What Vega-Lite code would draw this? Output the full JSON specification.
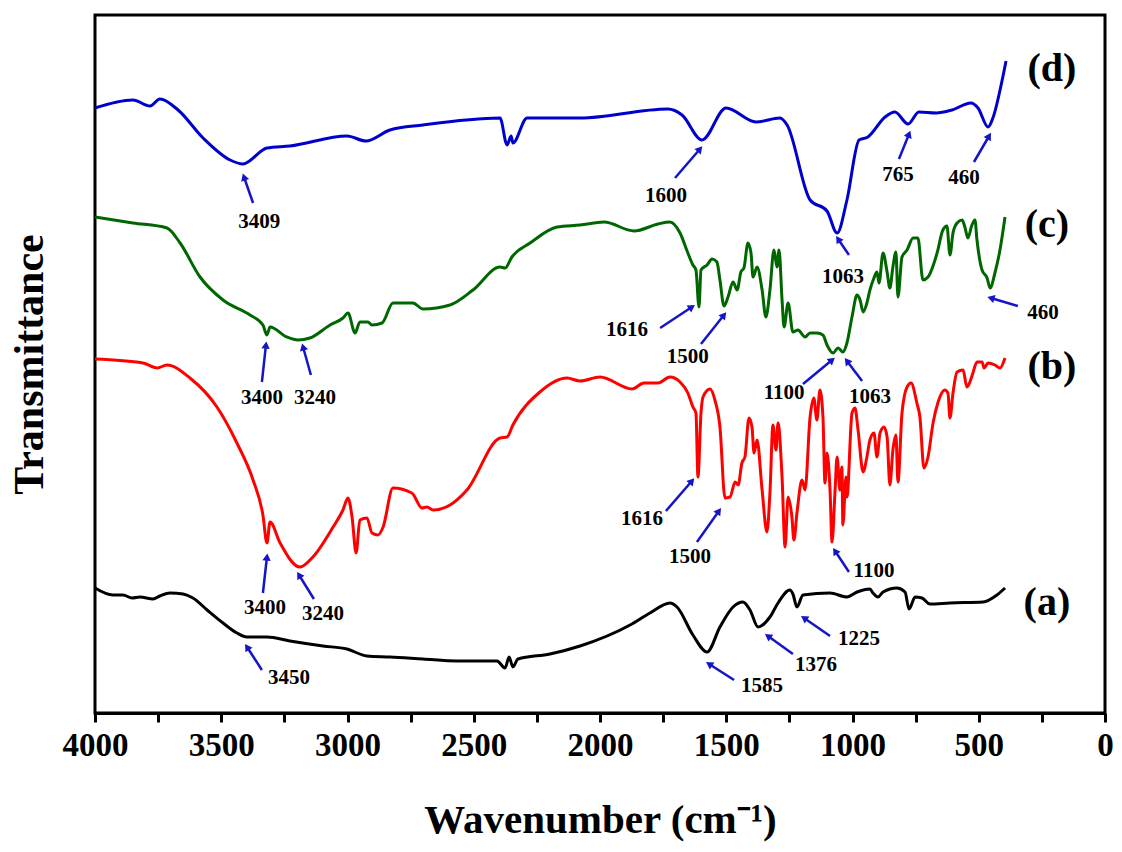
{
  "$schema": "https://vega.github.io/schema/vega-lite/v6.json",
  "width": 1010,
  "height": 698,
  "autosize": {"type": "none"},
  "padding": {"left": 95, "top": 15, "right": 17, "bottom": 139},
  "background": "white",
  "config": {"view": {"stroke": "black", "strokeWidth": 3}, "font": "Liberation Serif"},
  "datasets": {
    "spectra": [
      {"s":"d","w":4000,"t":605},{"s":"d","w":3850,"t":613},{"s":"d","w":3782,"t":607},{"s":"d","w":3743,"t":614},{"s":"d","w":3671,"t":603},{"s":"d","w":3572,"t":575},{"s":"d","w":3465,"t":553},{"s":"d","w":3414,"t":549},{"s":"d","w":3319,"t":565},{"s":"d","w":3228,"t":567},{"s":"d","w":3002,"t":577},{"s":"d","w":2927,"t":572},{"s":"d","w":2832,"t":583},{"s":"d","w":2701,"t":588},{"s":"d","w":2396,"t":595},{"s":"d","w":2368,"t":568},{"s":"d","w":2352,"t":577},{"s":"d","w":2345,"t":570},{"s":"d","w":2289,"t":595},{"s":"d","w":2079,"t":595},{"s":"d","w":1731,"t":604},{"s":"d","w":1675,"t":598},{"s":"d","w":1596,"t":573},{"s":"d","w":1501,"t":605},{"s":"d","w":1382,"t":591},{"s":"d","w":1287,"t":595},{"s":"d","w":1259,"t":588},{"s":"d","w":1168,"t":513},{"s":"d","w":1101,"t":502},{"s":"d","w":1061,"t":480},{"s":"d","w":1022,"t":513},{"s":"d","w":974,"t":573},{"s":"d","w":939,"t":576},{"s":"d","w":871,"t":596},{"s":"d","w":832,"t":601},{"s":"d","w":780,"t":589},{"s":"d","w":737,"t":601},{"s":"d","w":669,"t":600},{"s":"d","w":606,"t":603},{"s":"d","w":531,"t":610},{"s":"d","w":503,"t":605},{"s":"d","w":463,"t":586},{"s":"d","w":444,"t":595},{"s":"d","w":408,"t":632},{"s":"d","w":392,"t":652},
      {"s":"c","w":4000,"t":496},{"s":"c","w":3850,"t":490},{"s":"c","w":3715,"t":485},{"s":"c","w":3663,"t":470},{"s":"c","w":3584,"t":436},{"s":"c","w":3493,"t":413},{"s":"c","w":3386,"t":398},{"s":"c","w":3335,"t":388},{"s":"c","w":3319,"t":378},{"s":"c","w":3307,"t":386},{"s":"c","w":3240,"t":376},{"s":"c","w":3196,"t":373},{"s":"c","w":3149,"t":375},{"s":"c","w":3069,"t":388},{"s":"c","w":3018,"t":395},{"s":"c","w":2998,"t":400},{"s":"c","w":2970,"t":380},{"s":"c","w":2951,"t":391},{"s":"c","w":2919,"t":391},{"s":"c","w":2903,"t":388},{"s":"c","w":2863,"t":390},{"s":"c","w":2820,"t":410},{"s":"c","w":2741,"t":410},{"s":"c","w":2701,"t":404},{"s":"c","w":2594,"t":408},{"s":"c","w":2503,"t":423},{"s":"c","w":2396,"t":446},{"s":"c","w":2376,"t":445},{"s":"c","w":2349,"t":456},{"s":"c","w":2277,"t":470},{"s":"c","w":2170,"t":486},{"s":"c","w":2079,"t":488},{"s":"c","w":1984,"t":491},{"s":"c","w":1865,"t":482},{"s":"c","w":1770,"t":489},
      {"s":"c","w":1723,"t":491},{"s":"c","w":1683,"t":480},{"s":"c","w":1652,"t":460},{"s":"c","w":1632,"t":448},{"s":"c","w":1620,"t":443},{"s":"c","w":1608,"t":406},{"s":"c","w":1600,"t":443},{"s":"c","w":1576,"t":448},{"s":"c","w":1556,"t":454},{"s":"c","w":1537,"t":451},{"s":"c","w":1525,"t":433},{"s":"c","w":1509,"t":407},{"s":"c","w":1493,"t":416},{"s":"c","w":1473,"t":431},{"s":"c","w":1457,"t":423},{"s":"c","w":1442,"t":441},{"s":"c","w":1430,"t":445},{"s":"c","w":1414,"t":470},{"s":"c","w":1402,"t":460},{"s":"c","w":1394,"t":436},{"s":"c","w":1378,"t":446},{"s":"c","w":1358,"t":423},{"s":"c","w":1343,"t":396},{"s":"c","w":1327,"t":423},{"s":"c","w":1311,"t":463},{"s":"c","w":1299,"t":446},{"s":"c","w":1291,"t":463},{"s":"c","w":1279,"t":413},{"s":"c","w":1271,"t":386},{"s":"c","w":1255,"t":410},{"s":"c","w":1236,"t":381},{"s":"c","w":1216,"t":383},{"s":"c","w":1188,"t":376},{"s":"c","w":1168,"t":380},{"s":"c","w":1141,"t":380},{"s":"c","w":1117,"t":378},{"s":"c","w":1101,"t":368},{"s":"c","w":1077,"t":360},{"s":"c","w":1057,"t":365},{"s":"c","w":1038,"t":361},{"s":"c","w":1022,"t":370},{"s":"c","w":1002,"t":396},{"s":"c","w":982,"t":418},{"s":"c","w":970,"t":413},{"s":"c","w":958,"t":401},{"s":"c","w":943,"t":410},{"s":"c","w":931,"t":423},{"s":"c","w":915,"t":435},{"s":"c","w":903,"t":441},{"s":"c","w":895,"t":430},{"s":"c","w":879,"t":460},{"s":"c","w":863,"t":441},{"s":"c","w":852,"t":425},{"s":"c","w":840,"t":446},{"s":"c","w":828,"t":461},{"s":"c","w":820,"t":416},{"s":"c","w":804,"t":456},{"s":"c","w":784,"t":463},{"s":"c","w":760,"t":475},{"s":"c","w":741,"t":475},{"s":"c","w":721,"t":433},{"s":"c","w":701,"t":436},{"s":"c","w":665,"t":460},{"s":"c","w":642,"t":483},{"s":"c","w":626,"t":487},{"s":"c","w":614,"t":458},{"s":"c","w":602,"t":480},{"s":"c","w":586,"t":490},{"s":"c","w":566,"t":493},{"s":"c","w":555,"t":486},{"s":"c","w":543,"t":475},{"s":"c","w":527,"t":488},{"s":"c","w":515,"t":493},{"s":"c","w":507,"t":473},{"s":"c","w":487,"t":443},{"s":"c","w":467,"t":435},{"s":"c","w":455,"t":425},{"s":"c","w":436,"t":440},{"s":"c","w":416,"t":463},{"s":"c","w":396,"t":496},
      {"s":"b","w":4000,"t":354},{"s":"b","w":3810,"t":350},{"s":"b","w":3754,"t":345},{"s":"b","w":3715,"t":348},{"s":"b","w":3624,"t":335},{"s":"b","w":3517,"t":306},{"s":"b","w":3438,"t":270},{"s":"b","w":3374,"t":233},{"s":"b","w":3335,"t":198},{"s":"b","w":3319,"t":170},{"s":"b","w":3307,"t":191},{"s":"b","w":3267,"t":170},{"s":"b","w":3188,"t":146},{"s":"b","w":3137,"t":156},{"s":"b","w":3057,"t":186},{"s":"b","w":3018,"t":203},{"s":"b","w":2998,"t":215},{"s":"b","w":2982,"t":196},{"s":"b","w":2966,"t":160},{"s":"b","w":2951,"t":193},{"s":"b","w":2923,"t":195},{"s":"b","w":2903,"t":180},{"s":"b","w":2879,"t":178},{"s":"b","w":2859,"t":186},{"s":"b","w":2820,"t":225},{"s":"b","w":2745,"t":220},{"s":"b","w":2705,"t":205},{"s":"b","w":2685,"t":206},{"s":"b","w":2661,"t":203},{"s":"b","w":2594,"t":208},{"s":"b","w":2527,"t":223},{"s":"b","w":2396,"t":275},{"s":"b","w":2368,"t":276},{"s":"b","w":2345,"t":288},{"s":"b","w":2238,"t":321},{"s":"b","w":2131,"t":335},{"s":"b","w":2079,"t":332},{"s":"b","w":2000,"t":336},{"s":"b","w":1873,"t":324},{"s":"b","w":1826,"t":330},{"s":"b","w":1770,"t":330},
      {"s":"b","w":1723,"t":336},{"s":"b","w":1683,"t":331},{"s":"b","w":1652,"t":320},{"s":"b","w":1632,"t":306},{"s":"b","w":1620,"t":300},{"s":"b","w":1612,"t":236},{"s":"b","w":1600,"t":300},{"s":"b","w":1592,"t":316},{"s":"b","w":1564,"t":324},{"s":"b","w":1545,"t":313},{"s":"b","w":1525,"t":286},{"s":"b","w":1505,"t":215},{"s":"b","w":1485,"t":216},{"s":"b","w":1465,"t":231},{"s":"b","w":1453,"t":228},{"s":"b","w":1438,"t":250},{"s":"b","w":1426,"t":256},{"s":"b","w":1410,"t":295},{"s":"b","w":1398,"t":286},{"s":"b","w":1390,"t":260},{"s":"b","w":1378,"t":273},{"s":"b","w":1358,"t":223},{"s":"b","w":1339,"t":181},{"s":"b","w":1327,"t":220},{"s":"b","w":1315,"t":288},{"s":"b","w":1303,"t":263},{"s":"b","w":1295,"t":290},{"s":"b","w":1279,"t":236},{"s":"b","w":1267,"t":166},{"s":"b","w":1255,"t":216},{"s":"b","w":1240,"t":196},{"s":"b","w":1232,"t":173},{"s":"b","w":1220,"t":200},{"s":"b","w":1200,"t":233},{"s":"b","w":1188,"t":223},{"s":"b","w":1168,"t":296},{"s":"b","w":1153,"t":315},{"s":"b","w":1141,"t":293},{"s":"b","w":1129,"t":323},{"s":"b","w":1117,"t":296},{"s":"b","w":1109,"t":230},{"s":"b","w":1101,"t":260},{"s":"b","w":1089,"t":223},{"s":"b","w":1081,"t":171},{"s":"b","w":1069,"t":223},{"s":"b","w":1061,"t":256},{"s":"b","w":1050,"t":223},{"s":"b","w":1042,"t":246},{"s":"b","w":1038,"t":188},{"s":"b","w":1026,"t":236},{"s":"b","w":1022,"t":216},{"s":"b","w":1002,"t":300},{"s":"b","w":990,"t":305},{"s":"b","w":978,"t":283},{"s":"b","w":958,"t":241},{"s":"b","w":943,"t":256},{"s":"b","w":931,"t":273},{"s":"b","w":915,"t":280},{"s":"b","w":903,"t":256},{"s":"b","w":891,"t":280},{"s":"b","w":875,"t":286},{"s":"b","w":863,"t":276},{"s":"b","w":852,"t":228},{"s":"b","w":840,"t":263},{"s":"b","w":828,"t":278},{"s":"b","w":820,"t":231},{"s":"b","w":804,"t":300},{"s":"b","w":784,"t":326},{"s":"b","w":768,"t":330},{"s":"b","w":745,"t":310},{"s":"b","w":733,"t":296},{"s":"b","w":717,"t":245},{"s":"b","w":701,"t":256},{"s":"b","w":681,"t":290},{"s":"b","w":661,"t":311},{"s":"b","w":634,"t":323},{"s":"b","w":622,"t":320},{"s":"b","w":614,"t":295},{"s":"b","w":602,"t":320},{"s":"b","w":586,"t":341},{"s":"b","w":562,"t":343},{"s":"b","w":547,"t":326},{"s":"b","w":535,"t":331},{"s":"b","w":523,"t":340},{"s":"b","w":507,"t":351},{"s":"b","w":487,"t":351},{"s":"b","w":479,"t":345},{"s":"b","w":463,"t":350},{"s":"b","w":436,"t":348},{"s":"b","w":416,"t":345},{"s":"b","w":396,"t":355},
      {"s":"a","w":4000,"t":125},{"s":"a","w":3929,"t":118},{"s":"a","w":3889,"t":118},{"s":"a","w":3853,"t":115},{"s":"a","w":3822,"t":116},{"s":"a","w":3770,"t":114},{"s":"a","w":3743,"t":117},{"s":"a","w":3703,"t":120},{"s":"a","w":3651,"t":119},{"s":"a","w":3612,"t":115},{"s":"a","w":3556,"t":103},{"s":"a","w":3493,"t":90},{"s":"a","w":3438,"t":80},{"s":"a","w":3398,"t":76},{"s":"a","w":3319,"t":76},{"s":"a","w":3228,"t":72},{"s":"a","w":3097,"t":67},{"s":"a","w":3002,"t":64},{"s":"a","w":2923,"t":57},{"s":"a","w":2832,"t":56},{"s":"a","w":2701,"t":54},{"s":"a","w":2566,"t":52},{"s":"a","w":2408,"t":52},{"s":"a","w":2376,"t":45},{"s":"a","w":2360,"t":56},{"s":"a","w":2345,"t":46},{"s":"a","w":2325,"t":54},{"s":"a","w":2198,"t":59},{"s":"a","w":2079,"t":67},{"s":"a","w":1881,"t":88},{"s":"a","w":1802,"t":100},{"s":"a","w":1723,"t":110},{"s":"a","w":1695,"t":106},{"s":"a","w":1632,"t":78},{"s":"a","w":1576,"t":61},{"s":"a","w":1525,"t":86},{"s":"a","w":1473,"t":106},{"s":"a","w":1434,"t":111},{"s":"a","w":1406,"t":103},{"s":"a","w":1374,"t":86},{"s":"a","w":1327,"t":96},{"s":"a","w":1295,"t":110},{"s":"a","w":1248,"t":123},{"s":"a","w":1236,"t":119},{"s":"a","w":1220,"t":106},{"s":"a","w":1196,"t":118},{"s":"a","w":1089,"t":120},{"s":"a","w":1022,"t":116},{"s":"a","w":982,"t":121},{"s":"a","w":931,"t":124},{"s":"a","w":919,"t":120},{"s":"a","w":899,"t":116},{"s":"a","w":879,"t":121},{"s":"a","w":824,"t":125},{"s":"a","w":792,"t":121},{"s":"a","w":776,"t":104},{"s":"a","w":752,"t":116},{"s":"a","w":725,"t":115},{"s":"a","w":693,"t":109},{"s":"a","w":614,"t":110},{"s":"a","w":483,"t":111},{"s":"a","w":428,"t":118},{"s":"a","w":396,"t":125}
    ],
    "notes": [
      {"label":"3409","lx":3350,"ly":491,"tx":3374,"ty":510,"hx":3410,"hy":536},
      {"label":"1600","lx":1739,"ly":517,"tx":1703,"ty":535,"hx":1604,"hy":564},
      {"label":"1063","lx":1038,"ly":436,"tx":1014,"ty":458,"hx":1057,"hy":474},
      {"label":"765","lx":820,"ly":538,"tx":816,"ty":554,"hx":776,"hy":579},
      {"label":"460","lx":558,"ly":535,"tx":519,"ty":551,"hx":459,"hy":577},
      {"label":"1616","lx":1893,"ly":383,"tx":1762,"ty":385,"hx":1636,"hy":406},
      {"label":"1500","lx":1652,"ly":356,"tx":1600,"ty":369,"hx":1509,"hy":398},
      {"label":"460","lx":246,"ly":400,"tx":345,"ty":407,"hx":452,"hy":415},
      {"label":"3400","lx":3339,"ly":315,"tx":3339,"ty":331,"hx":3323,"hy":368},
      {"label":"3240","lx":3129,"ly":315,"tx":3145,"ty":338,"hx":3176,"hy":366},
      {"label":"3400","lx":3327,"ly":105,"tx":3335,"ty":120,"hx":3319,"hy":156},
      {"label":"3240","lx":3097,"ly":99,"tx":3133,"ty":114,"hx":3192,"hy":138},
      {"label":"3450","lx":3232,"ly":35,"tx":3339,"ty":43,"hx":3398,"hy":66},
      {"label":"1100","lx":1271,"ly":320,"tx":1196,"ty":329,"hx":1081,"hy":353},
      {"label":"1063","lx":931,"ly":316,"tx":962,"ty":332,"hx":1022,"hy":352},
      {"label":"1616","lx":1834,"ly":194,"tx":1739,"ty":202,"hx":1636,"hy":232},
      {"label":"1500","lx":1644,"ly":156,"tx":1616,"ty":171,"hx":1529,"hy":202},
      {"label":"1100","lx":915,"ly":142,"tx":1014,"ty":141,"hx":1069,"hy":162},
      {"label":"1585","lx":1358,"ly":27,"tx":1469,"ty":33,"hx":1568,"hy":49},
      {"label":"1376","lx":1145,"ly":48,"tx":1236,"ty":59,"hx":1335,"hy":77},
      {"label":"1225","lx":974,"ly":74,"tx":1089,"ty":77,"hx":1192,"hy":95}
    ],
    "tags": [
      {"label":"(d)","x":210,"y":644},
      {"label":"(c)","x":230,"y":488},
      {"label":"(b)","x":210,"y":346},
      {"label":"(a)","x":230,"y":110}
    ]
  },
  "encoding": {
    "x": {"type": "quantitative", "title": "Wavenumber (cm⁻¹)",
      "scale": {"domain": [0, 4000], "reverse": true, "nice": false, "zero": false},
      "axis": {"values": [0,250,500,750,1000,1250,1500,1750,2000,2250,2500,2750,3000,3250,3500,3750,4000],
        "format": "d", "labelExpr": "datum.value % 500 === 0 ? datum.label : ''",
        "labelFont": "Liberation Serif", "labelFontWeight": "bold", "labelFontSize": 33, "labelColor": "black",
        "labelPadding": 7, "labelOverlap": false, "labelFlush": false,
        "tickColor": "black", "tickWidth": 3, "tickSize": 9,
        "domainColor": "black", "domainWidth": 3, "grid": false,
        "titleFont": "Liberation Serif", "titleFontSize": 41, "titleFontWeight": "bold", "titleColor": "black", "titlePadding": 38}},
    "y": {"type": "quantitative", "title": "Transmittance",
      "scale": {"domain": [0, 698], "nice": false, "zero": false},
      "axis": {"labels": false, "ticks": false, "grid": false, "domain": false,
        "titleFont": "Liberation Serif", "titleFontSize": 42, "titleFontWeight": "bold", "titleColor": "black", "titlePadding": 44}}
  },
  "layer": [
    {
      "data": {"name": "spectra"},
      "mark": {"type": "line", "strokeWidth": 3, "strokeJoin": "round", "interpolate": "monotone"},
      "encoding": {
        "x": {"field": "w"},
        "y": {"field": "t"},
        "color": {"field": "s", "type": "nominal",
          "scale": {"domain": ["a","b","c","d"], "range": ["#000000","#FF0000","#006600","#0000CC"]}, "legend": null}
      }
    },
    {
      "data": {"name": "notes"},
      "mark": {"type": "rule", "color": "#1515C8", "strokeWidth": 2.5},
      "encoding": {
        "x": {"field": "tx"},
        "y": {"field": "ty"},
        "x2": {"field": "hx"},
        "y2": {"field": "hy"}
      }
    },
    {
      "data": {"name": "notes"},
      "transform": [{"calculate": "atan2(-(datum.hx - datum.tx) * 0.2525, (datum.hy - datum.ty)) * 180 / PI", "as": "ang"}],
      "mark": {"type": "point", "shape": "triangle-up", "filled": true, "color": "#1515C8", "size": 70, "opacity": 1},
      "encoding": {
        "x": {"field": "hx"},
        "y": {"field": "hy"},
        "angle": {"field": "ang", "type": "quantitative", "scale": null}
      }
    },
    {
      "data": {"name": "notes"},
      "mark": {"type": "text", "font": "Liberation Serif", "fontWeight": "bold", "fontSize": 21, "color": "black", "align": "center", "baseline": "middle"},
      "encoding": {
        "x": {"field": "lx"},
        "y": {"field": "ly"},
        "text": {"field": "label"}
      }
    },
    {
      "data": {"name": "tags"},
      "mark": {"type": "text", "font": "Liberation Serif", "fontWeight": "bold", "fontSize": 40, "color": "black", "align": "center", "baseline": "middle"},
      "encoding": {
        "x": {"field": "x"},
        "y": {"field": "y"},
        "text": {"field": "label"}
      }
    }
  ]
}
